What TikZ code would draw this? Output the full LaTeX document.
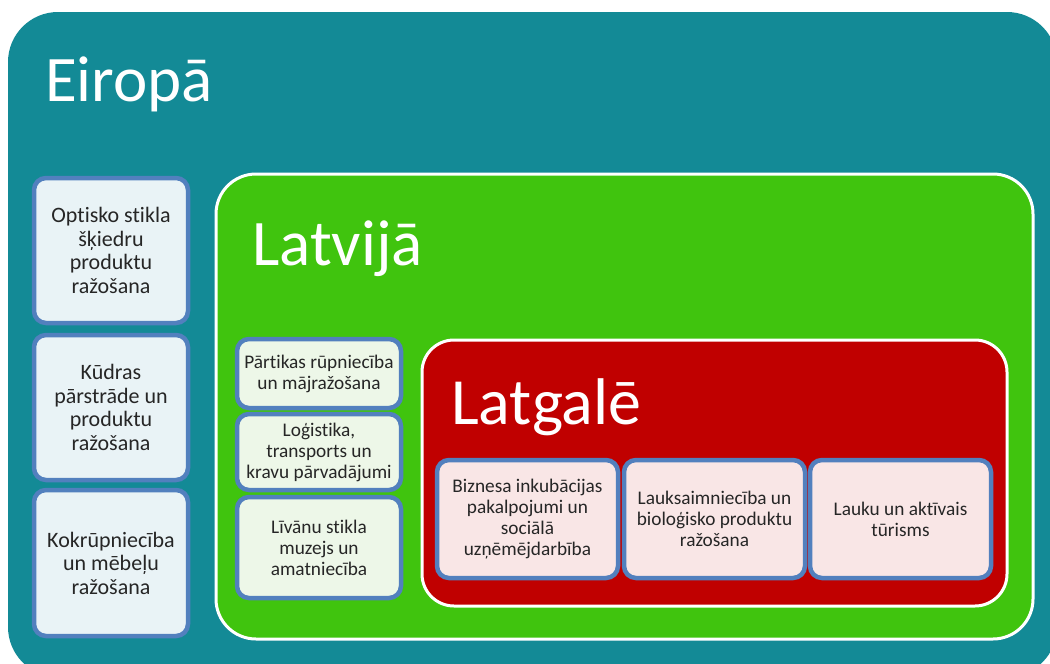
\documentclass[tikz,border=0pt]{standalone}
\usepackage{fontspec}
\setmainfont{Carlito}[Ligatures=NoCommon]
\usetikzlibrary{positioning}
\definecolor{eurteal}{RGB}{19,138,150}
\definecolor{lvgreen}{RGB}{64,196,14}
\definecolor{lgred}{RGB}{192,0,0}
\definecolor{itemblue}{RGB}{82,128,190}
\definecolor{eurfill}{RGB}{233,243,246}
\definecolor{lvfill}{RGB}{237,247,232}
\definecolor{lgfill}{RGB}{249,230,230}
\definecolor{txtgray}{RGB}{38,38,38}
\tikzset{
  region/.style={draw=white,line width=3pt,rounded corners=#1},
  item/.style={draw=itemblue,line width=4.5pt,rounded corners=12pt,align=center,text=txtgray,
    font=\fontsize{19.3}{21}\selectfont,inner sep=0pt},
  euitem/.style={item,fill=eurfill,font=\fontsize{22}{23.5}\selectfont},
  bigtitle/.style={text=white,anchor=base west,inner sep=0pt,font=\fontsize{65}{65}\selectfont},
  every picture/.style={x=1pt,y=-1pt}
}
\begin{document}
\begin{tikzpicture}
  \useasboundingbox (0,0) rectangle (1050,664);
  \clip (0,0) rectangle (1050,664);
  % nested regions
  \fill[eurteal,rounded corners=50pt] (8,12) rectangle (1057,677);
  \filldraw[region=40pt,fill=lvgreen] (216,174) rectangle (1033,639);
  \filldraw[region=32pt,fill=lgred] (422,340) rectangle (1007,606);
  \node[bigtitle] (eu) at (45,101) {Eiropā};
  \node[bigtitle] (lv) at (252,265) {Latvijā};
  \node[bigtitle,font=\fontsize{66}{66}\selectfont] (lg) at (451,424) {Latgalē};
  % Eiropa
  \node[euitem,minimum width=154pt,minimum height=145pt] (e1) at (111,250.5)
    {Optisko stikla\\šķiedru\\produktu\\ražošana};
  \node[euitem,minimum width=154pt,minimum height=145pt] (e2) at (111,407.5)
    {Kūdras\\pārstrāde un\\produktu\\ražošana};
  \node[euitem,minimum width=154pt,minimum height=146pt] (e3) at (111,563)
    {Kokrūpniecība\\un mēbeļu\\ražošana};
  % Latvija
  \node[item,fill=lvfill,minimum width=164pt,minimum height=69pt] (v1) at (319,373.5)
    {Pārtikas rūpniecība\\un mājražošana};
  \node[item,fill=lvfill,minimum width=164pt,minimum height=76pt] (v2) at (319,452)
    {Loģistika,\\transports un\\kravu pārvadājumi};
  \node[item,fill=lvfill,minimum width=164pt,minimum height=101pt] (v3) at (319,547.5)
    {Līvānu stikla\\muzejs un\\amatniecība};
  % Latgale
  \node[item,fill=lgfill,minimum width=181pt,minimum height=118pt] (g1) at (527.5,519)
    {Biznesa inkubācijas\\pakalpojumi un\\sociālā\\uzņēmējdarbība};
  \node[item,fill=lgfill,minimum width=181pt,minimum height=118pt] (g2) at (714.5,519)
    {Lauksaimniecība un\\bioloģisko produktu\\ražošana};
  \node[item,fill=lgfill,minimum width=181pt,minimum height=118pt] (g3) at (900.5,519)
    {Lauku un aktīvais\\tūrisms};
\end{tikzpicture}
\end{document}
